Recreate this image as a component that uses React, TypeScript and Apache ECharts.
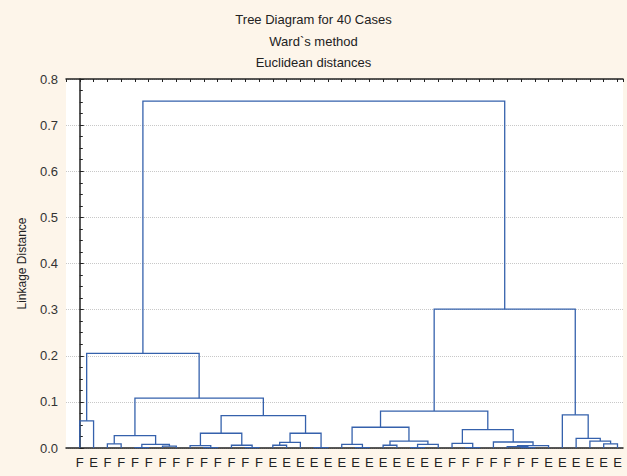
import React, { useEffect, useRef } from "react";
import * as echarts from "echarts";

// Leaf labels in dendrogram order
const leafLabels = [
  "F", "E", "F", "F", "F", "F", "F", "F", "F", "F",
  "F", "F", "F", "F", "E", "E", "E", "E", "E", "E",
  "E", "E", "E", "E", "E", "E", "E", "F", "F", "F",
  "F", "F", "F", "F", "E", "E", "E", "E", "E", "E",
];

// Merges: node ids 0..39 are leaves, merge k creates node 40+k
const mergeLeft = [
  4, 6, 40, 2, 43, 9, 8, 12, 11, 46,
  14, 50, 17, 51, 49, 44, 0, 56,
  20, 19, 22, 24, 61, 60, 59, 28, 27, 32, 31, 68, 30, 66, 64,
  38, 37, 36, 35, 72, 57,
];
const mergeRight = [
  5, 7, 41, 3, 42, 10, 45, 13, 47, 48,
  15, 16, 18, 52, 53, 54, 1, 55,
  21, 58, 23, 25, 26, 62, 63, 29, 65, 33, 67, 34, 69, 70, 71,
  39, 73, 74, 75, 76, 77,
];
const mergeHeight = [
  0.001, 0.004, 0.008, 0.009, 0.027, 0.001, 0.005, 0.001, 0.006, 0.032,
  0.006, 0.012, 0.001, 0.032, 0.070, 0.108, 0.059, 0.205,
  0.001, 0.008, 0.006, 0.001, 0.008, 0.015, 0.045, 0.001, 0.010, 0.001, 0.003, 0.005, 0.013, 0.040, 0.080,
  0.009, 0.015, 0.021, 0.072, 0.301, 0.752,
];

const yTicks = [0, 0.1, 0.2, 0.3, 0.4, 0.5, 0.6, 0.7, 0.8];

function buildLinks() {
  const n = leafLabels.length;
  const pos: number[] = [];
  const hgt: number[] = [];
  for (let i = 0; i < n; i++) {
    pos[i] = i;
    hgt[i] = 0;
  }
  const links: { coords: number[][] }[] = [];
  for (let k = 0; k < mergeHeight.length; k++) {
    const a = mergeLeft[k];
    const b = mergeRight[k];
    const h = mergeHeight[k];
    const id = n + k;
    pos[id] = (pos[a] + pos[b]) / 2;
    hgt[id] = h;
    links.push({
      coords: [
        [pos[a], hgt[a]],
        [pos[a], h],
        [pos[b], h],
        [pos[b], hgt[b]],
      ],
    });
  }
  return links;
}

export default function App() {
  const ref = useRef<HTMLDivElement>(null);
  useEffect(() => {
    if (!ref.current) return;
    const chart = echarts.init(ref.current, null, { renderer: "svg" });
    const font = "'Liberation Sans', Arial, sans-serif";
    const xMin = -1;
    const xMax = 39.4;
    chart.setOption({
      animation: false,
      backgroundColor: "#FDF5EA",
      textStyle: { fontFamily: font },
      title: {
        text: "Tree Diagram for 40 Cases\nWard`s method\nEuclidean distances",
        left: "center",
        top: 4,
        textStyle: {
          fontFamily: font,
          fontSize: 13,
          fontWeight: "normal",
          color: "#222",
          lineHeight: 21.5,
        },
      },
      grid: {
        left: 66,
        right: 4,
        top: 79,
        bottom: 28,
        show: true,
        backgroundColor: "#ffffff",
        borderWidth: 0,
      },
      xAxis: [
        {
          type: "value",
          min: xMin,
          max: xMax,
          interval: 1,
          position: "bottom",
          axisLine: { show: true, lineStyle: { color: "#222", width: 1.5 } },
          axisTick: { show: false },
          splitLine: { show: false },
          axisLabel: {
            show: true,
            margin: 8,
            fontSize: 13,
            color: "#222",
            fontFamily: font,
            showMaxLabel: false,
            formatter: (v: number) => {
              const i = Math.round(v);
              return i >= 0 && i < leafLabels.length ? leafLabels[i] : "";
            },
          },
        },
        {
          type: "value",
          min: xMin,
          max: xMax,
          interval: 1,
          position: "top",
          axisLine: { show: true, lineStyle: { color: "#222", width: 1.5 } },
          axisTick: { show: true, inside: true, length: 3, lineStyle: { color: "#222" } },
          splitLine: { show: false },
          axisLabel: { show: false },
        },
      ],
      yAxis: {
        type: "value",
        min: 0,
        max: 0.8,
        interval: 0.1,
        name: "Linkage Distance",
        nameLocation: "middle",
        nameGap: 38,
        nameTextStyle: { fontSize: 12, color: "#222", fontFamily: font },
        axisLine: { show: true, lineStyle: { color: "#222", width: 1.5 } },
        axisTick: { show: true, inside: true, length: 4, lineStyle: { color: "#222" } },
        minorTick: { show: true, splitNumber: 4, length: 3, lineStyle: { color: "#222" } },
        splitLine: {
          show: true,
          lineStyle: { color: "#C8C8C8", type: "dotted", width: 1 },
        },
        axisLabel: {
          fontSize: 13,
          color: "#333",
          fontFamily: font,
          margin: 8,
          formatter: (v: number) => {
            const t = yTicks.find((y) => Math.abs(y - v) < 1e-6);
            return (t !== undefined ? t : v).toFixed(1);
          },
        },
      },
      series: [
        {
          type: "lines",
          coordinateSystem: "cartesian2d",
          xAxisIndex: 0,
          yAxisIndex: 0,
          polyline: true,
          silent: true,
          lineStyle: { color: "#3561AC", width: 1.3, opacity: 1 },
          data: buildLinks(),
        },
      ],
    });
    return () => chart.dispose();
  }, []);
  return (
    <div
      ref={ref}
      style={{ position: "fixed", left: 0, top: 0, width: 627, height: 476, background: "#FDF5EA" }}
    />
  );
}
